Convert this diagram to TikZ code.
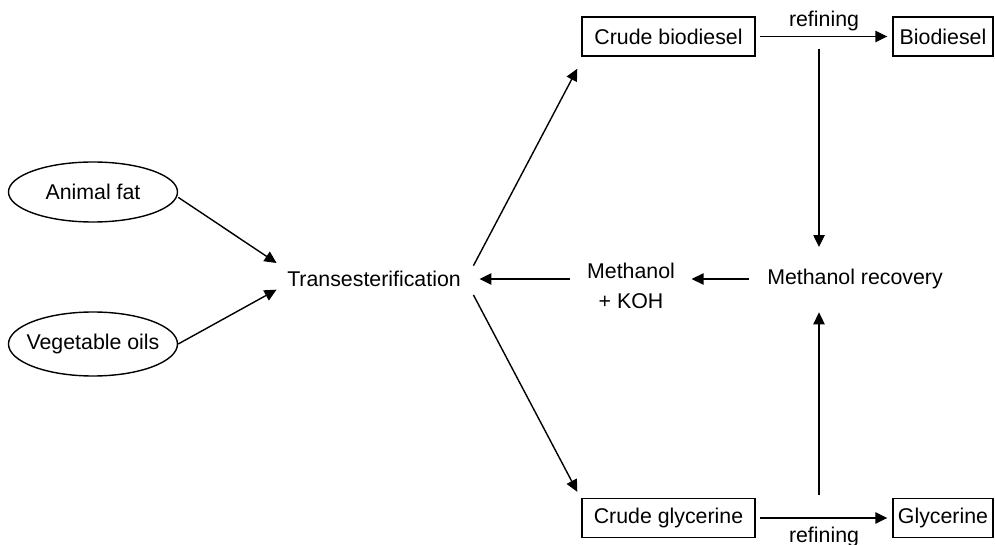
\documentclass[tikz,border=0pt]{standalone}
\usepackage{fontspec}
\setmainfont{Liberation Sans}
\usetikzlibrary{arrows.meta,shapes.geometric}
\begin{document}
\begin{tikzpicture}[x=0.75pt,y=-0.75pt,
  font=\fontsize{16}{19}\selectfont,
  line width=1.05pt,
  every node/.style={inner sep=0pt},
  procbox/.style={draw,rectangle,minimum height=29.25pt,anchor=center},
  srcell/.style={draw,ellipse,inner xsep=-8pt,inner ysep=0pt,minimum width=126.75pt,minimum height=45pt},
  arr/.style={-{Triangle[length=9pt,width=8.5pt]}}]
\path[use as bounding box] (0,0) rectangle (995,545);
% nodes
\node[procbox,minimum width=129.75pt] (cb) at (668.5,36.5) {Crude biodiesel};
\node[procbox,minimum width=75pt] (bd) at (943,36.5) {Biodiesel};
\node[procbox,minimum width=129.75pt] (cg) at (668.5,518) {Crude glycerine};
\node[procbox,minimum width=75pt] (gl) at (943,518) {Glycerine};
\node (mr) at (855,279) {Methanol recovery};
\node[align=center] (mk) at (631,286) {Methanol\\[4pt]+ KOH};
\node (tr) at (374,279) {Transesterification};
\node[srcell] (af) at (93,192) {Animal fat};
\node[srcell,minimum height=48pt] (vo) at (93,344) {Vegetable oils};
% connectors
\draw[arr,shorten <=3pt,shorten >=3.75pt] (cb.east) -- node[midway,above=4pt] {refining} (bd.west);
\draw[arr,shorten <=3pt,shorten >=3.75pt] (cg.east) -- node[midway,below=6pt] {refining} (gl.west);
\coordinate (t1) at (819,49);
\coordinate (t2) at (819,495);
\draw[arr] (t1) -- ([yshift=16pt]mr.north -| t1);
\draw[arr] (t2) -- ([yshift=-17pt]mr.south -| t2);
\draw[arr,shorten <=13pt,shorten >=12pt] (mr.west) -- (mk.east |- mr.west);
\draw[arr,shorten <=12pt,shorten >=13.5pt] (mk.west |- tr.east) -- (tr.east);
\draw[arr] ([xshift=9pt,yshift=10pt]tr.east) -- ([xshift=-3pt,yshift=-9pt]cb.south west);
\draw[arr] ([xshift=9pt,yshift=-12pt]tr.east) -- ([xshift=-3pt,yshift=4.5pt]cg.north west);
\draw[arr] ([yshift=-4pt]af.east) -- ([xshift=-7.5pt,yshift=12pt]tr.west);
\draw[arr] (vo.east) -- ([xshift=-7.5pt,yshift=-8pt]tr.west);
\end{tikzpicture}
\end{document}
